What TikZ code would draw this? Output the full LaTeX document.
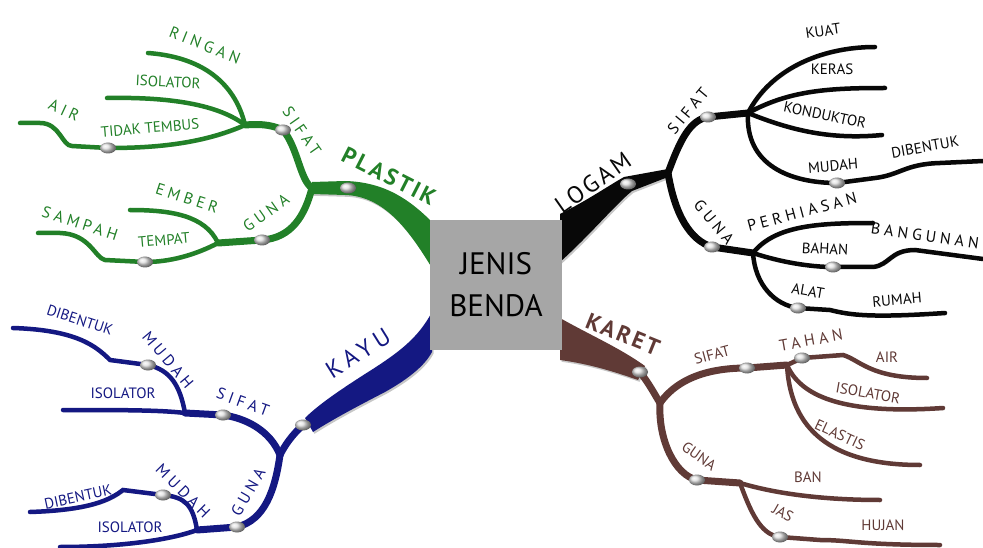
\documentclass[tikz,border=0pt]{standalone}
\usepackage{fontspec}
\setmainfont{PT Sans}
\usetikzlibrary{shapes.geometric}
\definecolor{gruen}{RGB}{34,128,40}
\definecolor{blau}{RGB}{20,24,130}
\definecolor{braun}{RGB}{96,58,54}
\definecolor{dunkel}{RGB}{8,8,8}
\tikzset{
  ast/.style={line width=4.5pt,line cap=round,preaction={draw=black!22,transform canvas={xshift=1.5pt,yshift=-1.8pt}}},
  stiel/.style={ast,line width=7pt},
  keil/.style={preaction={fill=black!22,transform canvas={xshift=1.5pt,yshift=-1.8pt}}},
  perle/.style={ellipse,minimum width=16pt,minimum height=11pt,inner sep=0pt,shading=ball,ball color=black!12},
  txt/.style={font=\fontsize{15}{17}\selectfont,inner sep=0pt},
  weit/.style={font=\fontsize{16}{18}\selectfont\addfontfeatures{LetterSpace=25},inner sep=0pt},
  haupt/.style={font=\fontsize{24}{26}\selectfont\addfontfeatures{LetterSpace=12},inner sep=0pt},
}
\begin{document}
\begin{tikzpicture}[x=1pt,y=-1pt]
\useasboundingbox (0,0) rectangle (983,548);
% Plastik
\begin{scope}[gruen]
\coordinate (pK) at (348,188); \coordinate (pW) at (312,188);
\coordinate (pS) at (283,130); \coordinate (pSJ) at (245,125); \coordinate (pG) at (262,240); \coordinate (pGJ) at (218,243);
\coordinate (pRingan) at (148,53); \coordinate (pIso) at (107,98); \coordinate (pTid) at (108,148); \coordinate (pAir) at (20,123);
\coordinate (pEmber) at (130,210); \coordinate (pTem) at (145,262); \coordinate (pSam) at (38,233);
\fill[keil] (312,182) -- (345,181) .. controls (385,182) and (410,200) .. (432,222) -- (432,268) .. controls (410,232) and (385,196) .. (345,195) -- (312,194) -- cycle;
\draw[ast] (pSJ) .. controls (238,95) and (215,58) .. (pRingan);
\draw[ast] (pSJ) .. controls (215,102) and (160,97) .. (pIso);
\draw[ast] (pSJ) .. controls (200,145) and (150,148) .. (pTid) -- (72,146) .. controls (62,146) and (60,123) .. (40,123) -- (pAir);
\draw[ast] (pGJ) .. controls (205,215) and (170,210) .. (pEmber);
\draw[ast] (pGJ) .. controls (195,255) and (170,262) .. (pTem) -- (105,260) .. controls (95,258) and (90,234) .. (60,233) -- (pSam);
\draw[stiel] (pW) .. controls (300,180) and (298,148) .. (pS) .. controls (270,124) and (258,124) .. (pSJ);
\draw[stiel] (pW) .. controls (305,215) and (292,238) .. (pG) -- (pGJ);
\foreach \p in {pK,pS,pG,pTid,pTem} \node[perle] (\p b) at (\p) {};
\node[haupt,font=\fontsize{23}{25}\selectfont\bfseries\addfontfeatures{LetterSpace=12},rotate=-27] (pT) at (389,176) {PLASTIK};
\node[weit,rotate=-55] (pST) at (302,131) {SIFAT};
\node[weit,rotate=-22] (pRT) at (205,45) {RINGAN};
\node[txt,rotate=-3] (pIT) at (168,82) {ISOLATOR};
\node[txt,rotate=5] (pTT) at (150,128) {TIDAK TEMBUS};
\node[weit,rotate=-25] (pAT) at (64,110) {AIR};
\node[weit,rotate=35] (pGT) at (266,213) {GUNA};
\node[weit,rotate=-18] (pET) at (187,198) {EMBER};
\node[txt,rotate=5] (pTeT) at (164,240) {TEMPAT};
\node[weit,rotate=-18] (pSaT) at (80,223) {SAMPAH};
\end{scope}
% Logam
\begin{scope}[dunkel]
\coordinate (lK) at (628,184); \coordinate (lW) at (668,173);
\coordinate (lS) at (708,117); \coordinate (lSJ) at (748,113); \coordinate (lG) at (712,247); \coordinate (lGJ) at (753,253);
\coordinate (lKuat) at (875,47); \coordinate (lKeras) at (885,88); \coordinate (lKond) at (882,135); \coordinate (lMud) at (837,183); \coordinate (lDib) at (983,161);
\coordinate (lPer) at (873,223); \coordinate (lBah) at (833,267); \coordinate (lBang) at (983,259); \coordinate (lAlat) at (798,308); \coordinate (lRum) at (945,313);
\fill[keil] (560,214) .. controls (588,200) and (608,186) .. (624,177) -- (668,169) -- (668,177) -- (632,191) .. controls (615,205) and (590,235) .. (560,262) -- cycle;
\draw[ast] (lSJ) .. controls (770,70) and (820,47) .. (lKuat);
\draw[ast] (lSJ) .. controls (790,90) and (830,88) .. (lKeras);
\draw[ast] (lSJ) .. controls (790,130) and (830,140) .. (lKond);
\draw[ast] (lSJ) .. controls (745,165) and (790,183) .. (lMud) -- (875,178) .. controls (900,175) and (905,164) .. (940,163) -- (lDib);
\draw[ast] (lGJ) .. controls (775,225) and (820,223) .. (lPer);
\draw[ast] (lGJ) .. controls (780,262) and (810,267) .. (lBah) -- (873,267) .. controls (890,265) and (890,250) .. (915,250) -- (lBang);
\draw[ast] (lGJ) .. controls (755,285) and (775,305) .. (lAlat) -- (830,310) .. controls (850,315) and (870,318) .. (lRum);
\draw[stiel] (lW) .. controls (680,140) and (690,120) .. (lS) -- (lSJ);
\draw[stiel] (lW) .. controls (675,215) and (690,240) .. (lG) -- (lGJ);
\foreach \p in {lK,lS,lG,lMud,lBah,lAlat} \node[perle] (\p b) at (\p) {};
\node[haupt,rotate=35] (lT) at (593,183) {LOGAM};
\node[weit,rotate=50] (lST) at (688,111) {SIFAT};
\node[txt,rotate=8] (lKuT) at (823,31) {KUAT};
\node[txt] (lKeT) at (832,69) {KERAS};
\node[txt,rotate=-12] (lKoT) at (825,115) {KONDUKTOR};
\node[txt,rotate=5] (lMT) at (833,166) {MUDAH};
\node[txt,rotate=10] (lDT) at (925,147) {DIBENTUK};
\node[weit,rotate=-50] (lGT) at (714,222) {GUNA};
\node[weit,rotate=15] (lPT) at (802,212) {PERHIASAN};
\node[txt,rotate=-3] (lBT) at (825,249) {BAHAN};
\node[weit,rotate=-8] (lBgT) at (925,236) {BANGUNAN};
\node[txt,rotate=-10] (lAT) at (808,291) {ALAT};
\node[txt,rotate=5] (lRT) at (897,300) {RUMAH};
\end{scope}
% Karet
\begin{scope}[braun]
\coordinate (kK) at (640,372); \coordinate (kW) at (660,403);
\coordinate (kS) at (747,368); \coordinate (kSJ) at (787,365); \coordinate (kG) at (697,480); \coordinate (kGJ) at (740,483);
\coordinate (kTah) at (802,358); \coordinate (kAir) at (927,378); \coordinate (kIso) at (943,408); \coordinate (kEla) at (920,465);
\coordinate (kBan) at (880,500); \coordinate (kJas) at (780,537); \coordinate (kHuj) at (940,545);
\fill[keil] (560,318) .. controls (590,335) and (620,348) .. (645,366) -- (638,380) .. controls (615,372) and (590,364) .. (560,360) -- cycle;
\draw[ast] (kSJ) -- (kTah) -- (843,355) .. controls (860,360) and (870,378) .. (kAir);
\draw[ast] (kSJ) .. controls (800,395) and (840,415) .. (kIso);
\draw[ast] (kSJ) .. controls (790,420) and (820,465) .. (kEla);
\draw[ast] (kGJ) .. controls (780,495) and (830,500) .. (kBan);
\draw[ast] (kGJ) .. controls (750,510) and (760,535) .. (kJas) -- (820,540) .. controls (850,540) and (860,545) .. (kHuj);
\draw[stiel] (kK) .. controls (650,385) and (655,395) .. (kW);
\draw[stiel] (kW) .. controls (680,375) and (715,368) .. (kS) -- (kSJ);
\draw[stiel] (kW) .. controls (658,440) and (675,475) .. (kG) -- (kGJ);
\foreach \p in {kK,kS,kTah,kG,kJas} \node[perle] (\p b) at (\p) {};
\node[haupt,font=\fontsize{23}{25}\selectfont\bfseries\addfontfeatures{LetterSpace=12},rotate=-22] (kT) at (623,334) {KARET};
\node[txt,rotate=15] (kST) at (712,355) {SIFAT};
\node[weit,rotate=10] (kTT) at (811,340) {TAHAN};
\node[txt] (kAT) at (887,357) {AIR};
\node[txt,rotate=-10] (kIT) at (868,393) {ISOLATOR};
\node[txt,rotate=-25] (kET) at (840,435) {ELASTIS};
\node[txt,rotate=-35] (kGT) at (699,456) {GUNA};
\node[txt] (kBT) at (808,477) {BAN};
\node[txt,rotate=-30] (kJT) at (783,513) {JAS};
\node[txt] (kHT) at (883,525) {HUJAN};
\end{scope}
% Kayu
\begin{scope}[blau]
\coordinate (bK) at (303,425); \coordinate (bW) at (280,455);
\coordinate (bS) at (223,415); \coordinate (bSJ) at (185,413); \coordinate (bG) at (237,527); \coordinate (bGJ) at (197,530);
\coordinate (bM) at (148,365); \coordinate (bDib) at (13,328); \coordinate (bIso) at (63,410);
\coordinate (bM2) at (163,495); \coordinate (bDib2) at (30,512); \coordinate (bIso2) at (60,547);
\fill[keil] (432,312) .. controls (418,338) and (400,352) .. (365,374) .. controls (340,390) and (318,405) .. (305,418) -- (313,432) .. controls (335,418) and (360,405) .. (385,392) .. controls (410,378) and (425,365) .. (432,352) -- cycle;
\draw[ast] (bSJ) .. controls (180,385) and (170,370) .. (bM) -- (110,360) .. controls (95,345) and (75,330) .. (bDib);
\draw[ast] (bSJ) .. controls (160,410) and (120,410) .. (bIso);
\draw[ast] (bGJ) .. controls (193,505) and (185,497) .. (bM2) -- (123,490) .. controls (110,500) and (90,510) .. (bDib2);
\draw[ast] (bGJ) .. controls (170,540) and (120,547) .. (bIso2);
\draw[stiel] (bK) .. controls (292,435) and (285,445) .. (bW);
\draw[stiel] (bW) .. controls (270,430) and (245,418) .. (bS) -- (bSJ);
\draw[stiel] (bW) .. controls (275,490) and (265,520) .. (bG) -- (bGJ);
\foreach \p in {bK,bS,bG,bM,bM2} \node[perle] (\p b) at (\p) {};
\node[haupt,font=\fontsize{24}{26}\selectfont\addfontfeatures{LetterSpace=22},rotate=32] (bT) at (358,353) {KAYU};
\node[weit,rotate=-20] (bST) at (243,402) {SIFAT};
\node[weit,rotate=-50] (bMT) at (168,360) {MUDAH};
\node[txt,rotate=-18] (bDT) at (80,320) {DIBENTUK};
\node[txt] (bIT) at (123,393) {ISOLATOR};
\node[weit,rotate=60] (bGT) at (248,492) {GUNA};
\node[weit,rotate=-45] (bMT2) at (183,491) {MUDAH};
\node[txt,rotate=12] (bDT2) at (78,497) {DIBENTUK};
\node[txt] (bIT2) at (130,527) {ISOLATOR};
\end{scope}
% Mitte
\node[fill=black!35,minimum width=132pt,minimum height=130pt,align=center,font=\fontsize{31}{42}\selectfont] (mitte) at (496,285) {JENIS\\BENDA};
\end{tikzpicture}
\end{document}
